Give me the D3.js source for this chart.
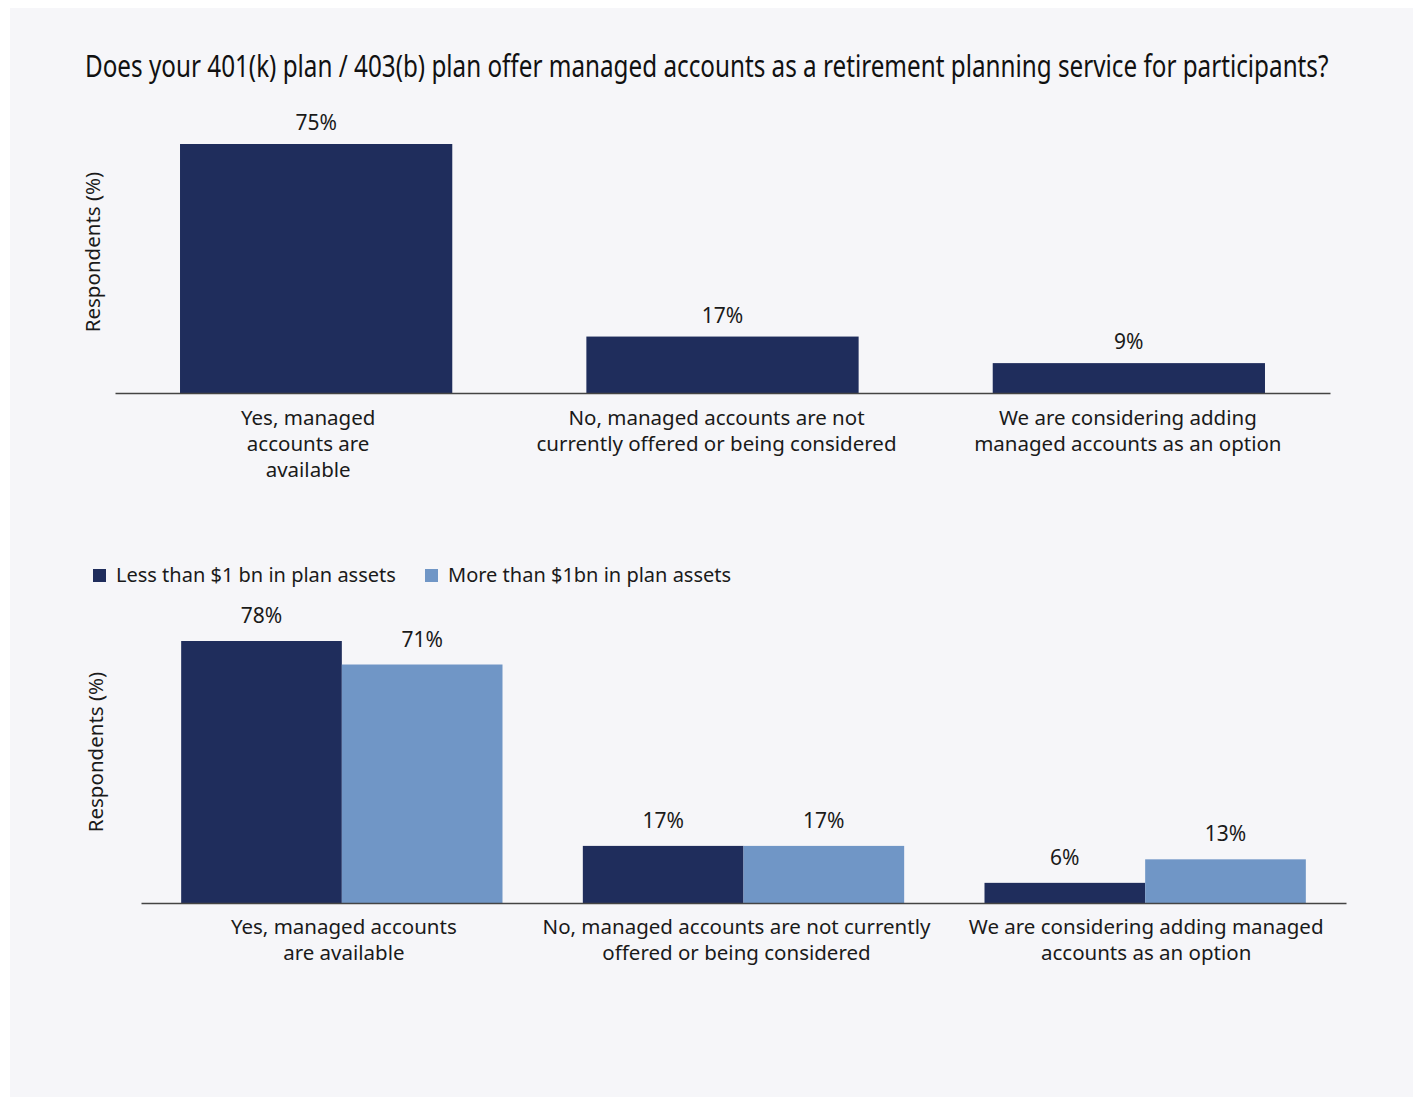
<!DOCTYPE html>
<html><head><meta charset="utf-8">
<script src="https://cdn.jsdelivr.net/npm/d3@7"></script>
<style>
html,body{margin:0;padding:0;background:#ffffff;}
svg text{font-family:"Noto Sans","Open Sans",sans-serif;fill:#1a1a1a;}
</style></head>
<body>
<svg id="chart" width="1413" height="1097"></svg>
<script>
const titleText = "Does your 401(k) plan / 403(b) plan offer managed accounts as a retirement planning service for participants?";
const yAxisLabel = "Respondents (%)";

// Top chart
const topCategories = ["yes", "no", "considering"];
const topLabels = [["Yes, managed", "accounts are", "available"],
                   ["No, managed accounts are not", "currently offered or being considered"],
                   ["We are considering adding", "managed accounts as an option"]];
const topValues = [75, 17, 9];

// Bottom chart
const bottomCategories = ["yes", "no", "considering"];
const bottomLabels = [["Yes, managed accounts", "are available"],
                      ["No, managed accounts are not currently", "offered or being considered"],
                      ["We are considering adding managed", "accounts as an option"]];
const seriesNames = ["Less than $1 bn in plan assets", "More than $1bn in plan assets"];
const seriesKeys = ["small", "large"];
const smallValues = [78, 17, 6];
const largeValues = [71, 17, 13];

const dark = "#1f2d5c", light = "#7096c6";

const svg = d3.select("#chart");
svg.append("rect").attr("x",10).attr("y",8).attr("width",1403).attr("height",1089).attr("fill","#f6f6f9");

const titleG = svg.append("g");
const title = titleG.append("text").attr("x",0).attr("y",0)
  .style("font-family","'Noto Sans','Open Sans',sans-serif")
  .style("font-size","30px").style("fill","#111").text(titleText);
const tl = title.node().getComputedTextLength();
titleG.attr("transform",`translate(85,77) scale(${(1244/tl).toFixed(4)},1)`);

// ---------- Top chart ----------
const x1 = d3.scaleBand().domain(topCategories).range([115,1330]).paddingInner(0.33).paddingOuter(0.16);
const y1 = d3.scaleLinear().domain([0,75]).range([393,144]);
const g1 = svg.append("g");
g1.selectAll("rect.bar").data(topCategories).join("rect")
  .attr("x",d=>x1(d)).attr("width",x1.bandwidth())
  .attr("y",(d,i)=>y1(topValues[i])).attr("height",(d,i)=>y1(0)-y1(topValues[i]))
  .attr("fill",dark);
g1.selectAll("text.val").data(topCategories).join("text")
  .attr("x",d=>x1(d)+x1.bandwidth()/2).attr("y",(d,i)=>y1(topValues[i])-14)
  .attr("text-anchor","middle").style("font-size","21px").text((d,i)=>topValues[i]+"%");
const ax1 = g1.append("g").attr("transform","translate(0,393)")
  .call(d3.axisBottom(x1).tickSize(0).tickFormat(""));
ax1.select(".domain").attr("stroke","#444").attr("stroke-width",1.6);
const topLabelOffsets = [-8,-6,-1];
topCategories.forEach((c,i)=>{
  const cx = x1(c)+x1.bandwidth()/2+topLabelOffsets[i];
  const t = g1.append("text").attr("text-anchor","middle").style("font-size","20.5px").attr("x",cx).attr("y",425);
  topLabels[i].forEach((l,j)=>t.append("tspan").attr("x",cx).attr("dy",j?26:0).text(l));
});
g1.append("text").attr("transform","translate(100,252) rotate(-90)").attr("text-anchor","middle")
  .style("font-size","20.5px").text(yAxisLabel);

// ---------- Bottom chart ----------
const x2 = d3.scaleBand().domain(bottomCategories).range([141,1346]).paddingInner(0.2).paddingOuter(0.1);
const xs = d3.scaleBand().domain(seriesKeys).range([0,x2.bandwidth()]);
const y2 = d3.scaleLinear().domain([0,78]).range([903,641]);
const color = d3.scaleOrdinal().domain(seriesKeys).range([dark,light]);
const g2 = svg.append("g");
const rows = bottomCategories.map((c,i)=>({cat:c, vals:[{k:"small",v:smallValues[i]},{k:"large",v:largeValues[i]}]}));
const grp = g2.selectAll("g.grp").data(rows).join("g").attr("transform",d=>`translate(${x2(d.cat)},0)`);
grp.selectAll("rect").data(d=>d.vals).join("rect")
  .attr("x",d=>xs(d.k)).attr("width",xs.bandwidth())
  .attr("y",d=>y2(d.v)).attr("height",d=>y2(0)-y2(d.v)).attr("fill",d=>color(d.k));
grp.selectAll("text").data(d=>d.vals).join("text")
  .attr("x",d=>xs(d.k)+xs.bandwidth()/2).attr("y",d=>y2(d.v)-18)
  .attr("text-anchor","middle").style("font-size","21px").text(d=>d.v+"%");
const ax2 = g2.append("g").attr("transform","translate(0,903)")
  .call(d3.axisBottom(x2).tickSize(0).tickFormat(""));
ax2.select(".domain").attr("stroke","#444").attr("stroke-width",1.6);
const botLabelOffsets = [2,-7,1];
bottomCategories.forEach((c,i)=>{
  const cx = x2(c)+x2.bandwidth()/2+botLabelOffsets[i];
  const t = g2.append("text").attr("text-anchor","middle").style("font-size","20.5px").attr("x",cx).attr("y",934);
  bottomLabels[i].forEach((l,j)=>t.append("tspan").attr("x",cx).attr("dy",j?26:0).text(l));
});
g2.append("text").attr("transform","translate(103,752) rotate(-90)").attr("text-anchor","middle")
  .style("font-size","20.5px").text(yAxisLabel);

// Legend
const legX = [93,425];
seriesKeys.forEach((k,i)=>{
  g2.append("rect").attr("x",legX[i]).attr("y",569).attr("width",13).attr("height",13).attr("fill",color(k));
  g2.append("text").attr("x",legX[i]+23).attr("y",582).style("font-size","20px").text(seriesNames[i]);
});
</script>
</body></html>
